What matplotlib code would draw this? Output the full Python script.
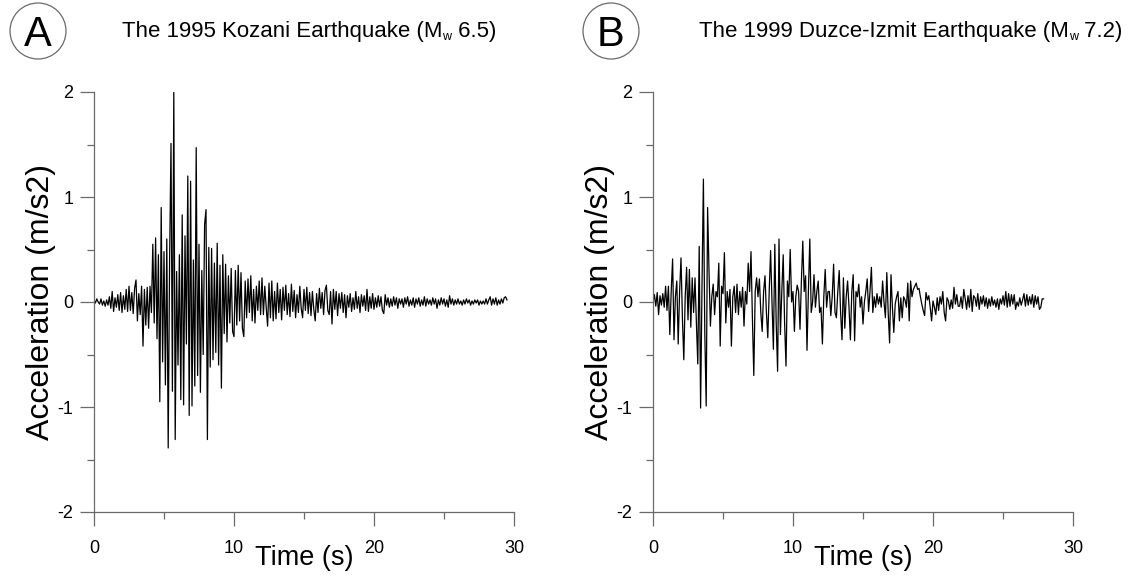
import matplotlib
matplotlib.use("Agg")
import matplotlib.pyplot as plt
import matplotlib.patches as mpatches
import numpy as np

plt.rcParams['font.family'] = ['Liberation Sans', 'DejaVu Sans']

####DATA#####
# sample interval of the digitised records (s)
dt_kozani = 0.1
dt_duzce = 0.1

# 1995 Kozani record, acceleration (m/s2), one value per 0.1 s
acc_kozani = [
    0.02, -0.01, 0.03, 0.00, -0.02, 0.03, -0.03, 0.01, -0.04, 0.02,
    -0.03, 0.05, -0.06, 0.10, -0.09, 0.04, -0.05, 0.07, -0.08, 0.09,
    -0.10, 0.06, -0.07, 0.12, -0.09, 0.15, -0.08, 0.09, -0.11, 0.13,
    0.21, -0.18, 0.08, -0.12, 0.15, -0.42, 0.12, -0.22, 0.14, -0.25,
    0.15, -0.10, 0.55, -0.20, 0.61, -0.35, 0.45, -0.95, 0.90, -0.57,
    0.48, -0.79, 0.60, -1.39, 0.40, 1.51, -0.85, 2.03, -1.31, 0.29,
    -0.60, 0.45, -0.93, 0.83, -0.98, 0.63, -0.40, 1.20, -1.08, 1.15,
    -0.99, 0.40, -0.80, 1.47, -0.70, 0.55, -0.86, 0.30, -0.50, 0.74,
    0.88, -1.31, 0.52, -0.62, 0.51, -0.55, 0.37, -0.48, 0.56, -0.60,
    0.35, -0.82, 0.45, -0.30, 0.36, -0.38, 0.25, -0.20, 0.32, -0.28,
    -0.33, 0.30, -0.22, 0.35, -0.18, 0.28, -0.25, -0.33, 0.20, -0.15,
    0.22, -0.10, 0.25, -0.18, 0.12, -0.20, 0.15, -0.08, 0.20, -0.12,
    0.23, -0.12, 0.15, -0.05, -0.23, 0.18, -0.15, 0.20, -0.18, 0.10,
    -0.16, 0.18, -0.10, 0.12, -0.17, 0.14, -0.08, 0.16, -0.12, 0.08,
    -0.14, 0.17, -0.09, 0.11, -0.15, 0.07, -0.10, 0.15, -0.06, -0.15,
    0.12, -0.08, 0.14, -0.11, 0.09, -0.13, 0.10, -0.07, -0.18, 0.08,
    -0.10, 0.13, -0.06, 0.09, -0.12, 0.11, 0.16, -0.08, -0.12, 0.10,
    -0.21, 0.12, -0.07, 0.10, -0.13, 0.08, -0.06, 0.09, -0.10, 0.07,
    -0.15, 0.06, -0.05, 0.08, -0.09, 0.04, -0.07, 0.10, -0.06, 0.05,
    -0.10, 0.07, -0.04, 0.06, -0.08, 0.12, -0.09, 0.05, -0.06, 0.08,
    -0.07, 0.04, -0.05, 0.06, -0.04, 0.05, -0.08, -0.11, 0.07, -0.03,
    0.04, -0.05, 0.03, -0.04, 0.05, -0.03, 0.04, -0.06, 0.03, -0.02,
    0.03, -0.05, 0.04, -0.02, 0.05, -0.04, 0.02, -0.03, 0.04, -0.05,
    0.03, -0.02, 0.04, -0.04, 0.02, -0.03, 0.05, -0.04, 0.03, -0.02,
    0.02, -0.03, 0.04, -0.02, 0.03, -0.06, 0.02, -0.03, 0.04, -0.02,
    0.03, -0.04, 0.02, -0.05, 0.06, -0.02, 0.03, -0.03, 0.02, -0.02,
    0.03, -0.02, 0.01, -0.03, 0.02, -0.02, 0.03, -0.01, 0.02, -0.03,
    0.01, -0.02, 0.02, -0.01, 0.02, -0.03, 0.01, -0.02, 0.01, -0.02,
    0.03, -0.02, 0.02, 0.05, -0.03, 0.03, -0.02, 0.04, -0.03, 0.02,
    -0.02, 0.03, -0.01, 0.04, 0.05, 0.02,
]

# 1999 Duzce-Izmit record, acceleration (m/s2), one value per 0.1 s
acc_duzce = [
    0.00, 0.07, -0.04, 0.09, -0.12, 0.06, -0.03, 0.08, -0.05, 0.15,
    -0.08, 0.15, -0.31, 0.10, 0.41, -0.36, 0.05, 0.20, -0.40, 0.10,
    0.42, -0.15, -0.55, 0.05, 0.33, -0.17, 0.31, -0.24, 0.23, -0.10,
    0.23, -0.20, -0.59, 0.53, -1.01, 0.15, 1.17, -0.30, -0.99, 0.90,
    0.30, -0.23, 0.05, 0.17, -0.12, 0.10, 0.05, 0.37, -0.42, 0.15,
    0.08, 0.47, -0.20, 0.10, -0.05, 0.12, -0.42, 0.05, 0.15, -0.10,
    0.17, -0.12, 0.10, -0.05, 0.14, -0.23, 0.10, -0.02, 0.37, 0.10,
    0.48, -0.15, -0.70, 0.10, 0.23, 0.05, 0.22, -0.10, -0.28, 0.10,
    0.25, -0.10, -0.34, 0.10, 0.49, 0.00, -0.45, 0.55, -0.20, -0.66,
    0.60, -0.31, 0.10, 0.45, -0.20, -0.61, 0.20, 0.05, 0.50, 0.00,
    0.10, -0.28, 0.05, 0.16, 0.10, -0.26, 0.20, 0.58, 0.10, 0.25,
    -0.46, 0.10, 0.60, -0.10, 0.00, 0.26, -0.05, 0.10, 0.20, -0.10,
    -0.05, -0.40, 0.05, 0.31, -0.05, 0.10, 0.10, -0.13, 0.05, 0.36,
    -0.10, -0.15, 0.10, 0.30, -0.10, -0.36, 0.23, -0.25, 0.05, 0.20,
    -0.05, -0.36, 0.10, 0.26, -0.37, 0.10, 0.05, 0.17, -0.05, 0.05,
    -0.21, 0.00, 0.10, 0.22, -0.09, 0.10, 0.33, -0.10, 0.05, -0.05,
    0.08, -0.02, 0.05, -0.05, 0.20, 0.00, -0.15, 0.28, -0.10, -0.39,
    0.26, -0.05, -0.29, -0.02, 0.05, 0.10, -0.18, 0.04, -0.15, 0.05,
    0.02, -0.05, 0.18, -0.18, 0.20, 0.05, 0.12, 0.15, 0.18, 0.12,
    0.13, 0.05, -0.02, -0.08, -0.13, 0.09, 0.02, 0.06, -0.05, -0.18,
    0.01, -0.05, -0.12, 0.04, -0.08, 0.05, -0.02, 0.10, -0.10, -0.18,
    0.04, 0.01, -0.07, 0.02, -0.06, 0.14, -0.02, 0.07, -0.04, -0.04,
    0.05, -0.06, 0.12, 0.03, -0.07, 0.06, -0.05, 0.12, -0.09, 0.06,
    0.04, -0.04, 0.08, -0.07, 0.05, -0.02, 0.06, -0.04, 0.04, -0.06,
    0.03, -0.04, 0.05, -0.03, 0.02, -0.05, 0.03, -0.07, 0.03, -0.02,
    0.06, -0.03, 0.10, -0.05, 0.08, -0.04, 0.07, -0.02, 0.07, -0.07,
    0.00, -0.04, 0.04, -0.03, 0.02, 0.08, -0.04, 0.07, -0.03, 0.05,
    -0.02, 0.07, -0.05, 0.06, -0.02, 0.05, -0.07, -0.05, 0.03, 0.03,
]

records = [acc_kozani, acc_duzce]
intervals = [dt_kozani, dt_duzce]
titles = ["The 1995 Kozani Earthquake (M", "The 1999 Duzce-Izmit Earthquake (M"]
magnitudes = [" 6.5)", " 7.2)"]
panel_letters = ['A', 'B']

x_major = [0, 10, 20, 30]
x_minor = [5, 15, 25]
y_major = [-2, -1, 0, 1, 2]
y_minor = [-1.5, -0.5, 0.5, 1.5]

####PLOT########
W, H = 1148, 580
fig = plt.figure(figsize=(W / 100, H / 100), dpi=100)
axis_grey = '#6a6a6a'

# panel geometry in pixels: left edge of each axes
lefts = [94, 653]
letter_cx = [38, 611]
title_x0 = [122, 699]

for k in range(2):
    ax = fig.add_axes([lefts[k] / W, (H - 512) / H, 420 / W, 420 / H])
    acc = np.array(records[k])
    t = np.arange(len(acc)) * intervals[k]
    ax.plot(t, acc, color='black', linewidth=0.9)

    ax.set_xlim(0, 30)
    ax.set_ylim(-2, 2)
    ax.set_xticks(x_major)
    ax.set_xticks(x_minor, minor=True)
    ax.set_yticks(y_major)
    ax.set_yticks(y_minor, minor=True)
    ax.set_yticklabels(['-2', '-1', '0', '1', '2'])

    for s in ['top', 'right']:
        ax.spines[s].set_visible(False)
    for s in ['left', 'bottom']:
        ax.spines[s].set_color(axis_grey)
        ax.spines[s].set_linewidth(0.9)
    ax.tick_params(which='major', length=10, width=0.9, color=axis_grey,
                   labelsize=13, pad=5)
    ax.tick_params(axis='x', which='major', pad=10)
    ax.tick_params(which='minor', length=5, width=0.9, color=axis_grey)

    ax.set_xlabel("Time (s)", fontsize=19.5)
    ax.xaxis.set_label_coords(0.5, -0.078)
    ax.set_ylabel("Acceleration (m/s2)", fontsize=23)
    ax.yaxis.set_label_coords(-0.09, 0.5)

    # panel letter in a circle
    cx, cy = letter_cx[k] / W, 1 - 31 / H
    fig.add_artist(mpatches.Ellipse((cx, cy), 56 / W, 56 / H,
                                    transform=fig.transFigure, fill=False,
                                    edgecolor=axis_grey, linewidth=0.9))
    fig.text(cx, cy, panel_letters[k], ha='center', va='center_baseline',
             fontsize=30)

    # title, with a small subscript w after the M
    base = 1 - 37 / H
    txt = fig.text(title_x0[k] / W, base, titles[k], ha='left',
                   va='baseline', fontsize=16)
    fig.canvas.draw()
    bb = txt.get_window_extent()
    sub = fig.text(bb.x1 / W, base - 3 / H, "w", ha='left', va='baseline',
                   fontsize=9)
    bb2 = sub.get_window_extent()
    fig.text(bb2.x1 / W, base, magnitudes[k], ha='left', va='baseline',
             fontsize=16)

plt.savefig("out.png", dpi=100)
